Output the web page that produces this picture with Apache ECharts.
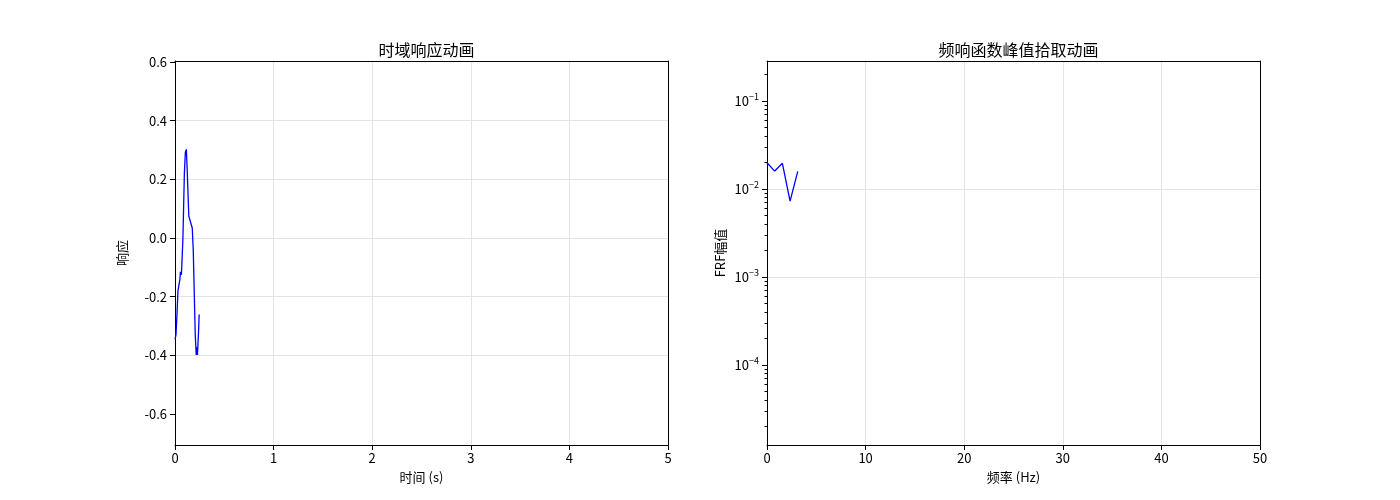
<!DOCTYPE html>
<html><head><meta charset="utf-8">
<script src="https://cdn.jsdelivr.net/npm/echarts@6/dist/echarts.min.js"></script>
<style>html,body{margin:0;padding:0;background:#fff}#c{width:1400px;height:500px}</style>
</head><body><div id="c"></div>
<script>
// Left panel: time-domain response
const timeS = [0.000,0.010,0.020,0.030,0.040,0.050,0.055,0.065,0.080,0.095,0.105,0.115,0.125,0.140,0.155,0.165,0.175,0.185,0.205,0.215,0.220,0.228,0.240,0.245];
const response = [-0.345,-0.330,-0.260,-0.180,-0.175,-0.140,-0.115,-0.125,-0.005,0.220,0.292,0.302,0.220,0.075,0.057,0.056,0.034,-0.040,-0.325,-0.398,-0.372,-0.398,-0.310,-0.260];
// Right panel: FRF magnitude
const freqHz = [0.00,0.78,1.56,2.34,3.12];
const frfMag = [0.0199,0.0160,0.0196,0.0073,0.0159];
const titles = ['时域响应动画','频响函数峰值拾取动画'];
const xNames = ['时间 (s)','频率 (Hz)'];
const yNames = ['响应','FRF幅值'];
const leftTicks = [-0.6,-0.4,-0.2,0,0.2,0.4,0.6];
const logMajor = [1e-4,1e-3,1e-2,1e-1];
const minorLogTicks = [];
for (let e = -5; e <= -1; e++) for (let k = 2; k <= 9; k++) minorLogTicks.push(k * Math.pow(10, e));

const FONT = '"Noto Sans CJK SC", "DejaVu Sans", sans-serif';
const txt = {color:'#000', fontFamily: FONT, fontSize: 13};
const chart = echarts.init(document.getElementById('c'));
const gridLine = {show:true, showMinLine:false, showMaxLine:false, lineStyle:{color:'#e4e4e4', width:1}};
const tick = {show:true, inside:false, length:5, lineStyle:{color:'#000'}};
const aline = {show:true, onZero:false, lineStyle:{color:'#000', width:1}};
const supMap = {'-':'−'};
const LMIN = Math.pow(10,-4.909), LMAX = Math.pow(10,-0.545);
const frameX = (g, mn, mx) => ({gridIndex:g, type:'value', min:mn, max:mx, position:'top', axisLine:aline, axisTick:{show:false}, axisLabel:{show:false}, splitLine:{show:false}});
chart.setOption({
  animation:false,
  title:[
    {text:titles[0], left:421.5, top:37, textAlign:'center', textStyle:{fontFamily:FONT, fontSize:16, fontWeight:'normal', color:'#000'}},
    {text:titles[1], left:1013.5, top:37, textAlign:'center', textStyle:{fontFamily:FONT, fontSize:16, fontWeight:'normal', color:'#000'}}
  ],
  grid:[
    {left:175, top:61, width:493, height:384},
    {left:767, top:61, width:493, height:384}
  ],
  xAxis:[
    {gridIndex:0, type:'value', min:0, max:5, interval:1, name:xNames[0], nameLocation:'middle', nameGap:26, nameTextStyle:txt,
     axisLine:aline, axisTick:tick, axisLabel:Object.assign({margin:7}, txt), splitLine:gridLine},
    {gridIndex:1, type:'value', min:0, max:50, interval:10, name:xNames[1], nameLocation:'middle', nameGap:26, nameTextStyle:txt,
     axisLine:aline, axisTick:tick, axisLabel:Object.assign({margin:7}, txt), splitLine:gridLine},
    frameX(0, 0, 5), frameX(1, 0, 50)
  ],
  yAxis:[
    {gridIndex:0, type:'value', min:-0.705, max:0.603, interval:0.2, name:yNames[0], nameLocation:'middle', nameGap:46, nameTextStyle:txt,
     axisLine:aline, axisTick:Object.assign({}, tick, {customValues:leftTicks}),
     axisLabel:Object.assign({margin:8, customValues:leftTicks, formatter:v=>v.toFixed(1)}, txt), splitLine:gridLine},
    {gridIndex:1, type:'log', logBase:10, min:LMIN, max:LMAX, name:yNames[1], nameLocation:'middle', nameGap:40, nameTextStyle:txt,
     axisLine:aline, axisTick:Object.assign({}, tick, {customValues:logMajor}),
     axisLabel:Object.assign({margin:8, customValues:logMajor,
       formatter:v=>{const e=Math.round(Math.log10(v)); return '{b|10}{s|'+String(e).split('').map(c=>supMap[c]||c).join('')+'}';},
       rich:{b:{fontFamily:FONT,fontSize:13,color:'#000'}, s:{fontFamily:FONT,fontSize:9,color:'#000',verticalAlign:'top',padding:[0,0,8,0]}}}, txt),
     splitLine:gridLine},
    {gridIndex:1, type:'log', logBase:10, min:LMIN, max:LMAX, position:'left',
     axisLine:{show:false}, axisLabel:{show:false}, splitLine:{show:false},
     axisTick:{show:true, length:2.5, customValues:minorLogTicks, lineStyle:{color:'#000'}}},
    {gridIndex:0, type:'value', min:-0.705, max:0.603, position:'right', axisLine:aline, axisTick:{show:false}, axisLabel:{show:false}, splitLine:{show:false}},
    {gridIndex:1, type:'value', min:0, max:1, position:'right', axisLine:aline, axisTick:{show:false}, axisLabel:{show:false}, splitLine:{show:false}}
  ],
  series:[
    {type:'line', xAxisIndex:0, yAxisIndex:0, data:timeS.map((t,i)=>[t,response[i]]), showSymbol:false, lineStyle:{color:'#0000ff', width:1.3}},
    {type:'line', xAxisIndex:1, yAxisIndex:1, data:freqHz.map((f,i)=>[f,frfMag[i]]), showSymbol:false, lineStyle:{color:'#0000ff', width:1.3}}
  ]
});
</script></body></html>
